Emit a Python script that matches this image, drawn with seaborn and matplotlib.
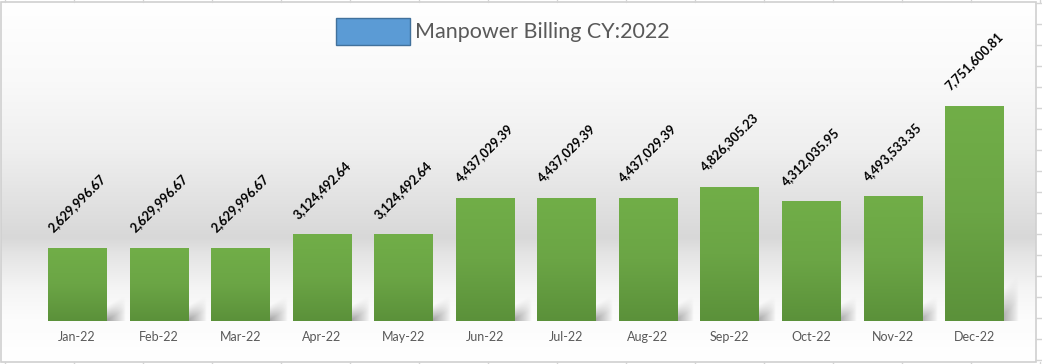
import numpy as np
import matplotlib
matplotlib.use('Agg')
import matplotlib.pyplot as plt
import seaborn as sns
from matplotlib.colors import LinearSegmentedColormap
from matplotlib.patches import Rectangle

months = ['Jan-22', 'Feb-22', 'Mar-22', 'Apr-22', 'May-22', 'Jun-22',
          'Jul-22', 'Aug-22', 'Sep-22', 'Oct-22', 'Nov-22', 'Dec-22']
billing = [2629996.67, 2629996.67, 2629996.67, 3124492.64, 3124492.64, 4437029.39,
           4437029.39, 4437029.39, 4826305.23, 4312035.95, 4493533.35, 7751600.81]
series_name = 'Manpower Billing CY:2022'

sns.set_theme(style='white')
plt.rcParams['font.family'] = ['Lato', 'DejaVu Sans']

W, H = 1042, 364
fig = plt.figure(figsize=(W / 100, H / 100), dpi=100)

# backdrop: spreadsheet cells + chart area with grey band gradient
bg = fig.add_axes([0, 0, 1, 1], zorder=0)
bg.axis('off')
for x in range(5, W, 69):
    bg.plot([x, x], [0, 2], color='#d4d4d4', lw=1)
    bg.plot([x, x], [362, H], color='#d4d4d4', lw=1)
for y in range(3, H, 21):
    bg.plot([1036, W], [y, y], color='#d4d4d4', lw=1)

stops = [(0.0, '#ffffff'), (0.22, '#f9f9f9'), (0.41, '#efefef'), (0.55, '#e2e2e2'),
         (0.655, '#d8d8d8'), (0.70, '#e4e4e4'), (0.80, '#f5f5f5'), (0.88, '#fcfcfc'),
         (1.0, '#ffffff')]
bg_cmap = LinearSegmentedColormap.from_list('bg', stops)
grad = np.linspace(0, 1, 256).reshape(-1, 1)
bg.imshow(grad, cmap=bg_cmap, extent=[1, 1036, 362, 2], aspect='auto', origin='upper')
bg.add_patch(Rectangle((1, 2), 1035, 360, fill=False, edgecolor='#d0d0d0', lw=1.2))

# soft shadows to the right of each bar base
u = np.linspace(0, 1, 40)
vv = np.linspace(0, 1, 40)
U, V = np.meshgrid(u, vv)  # V: 0 top -> 1 bottom
alpha = 0.75 * (1 - U) ** 0.9 * np.clip((V - 0.45 * (1 - U)) / 0.55, 0, 1) ** 1.2
shadow = np.zeros((40, 40, 4))
shadow[..., :3] = 0.5
shadow[..., 3] = alpha
step = 81.2
for i, v in enumerate(billing):
    x_right = 106 + step * i
    top = 294 if v < 7e6 else 272
    bg.imshow(shadow, extent=[x_right, x_right + 20, 321, top], aspect='auto',
              origin='upper', zorder=1)
bg.set_xlim(0, W)
bg.set_ylim(H, 0)

# main bar axes
ax = fig.add_axes([36.4 / W, (H - 321) / H, (1015 - 36.4) / W, (321 - 44) / H], zorder=1)
ax.patch.set_alpha(0)
sns.barplot(x=months, y=billing, color='#6aa843', saturation=1, width=0.714,
            linewidth=0, ax=ax)

bar_cmap = LinearSegmentedColormap.from_list('bar', ['#5b913a', '#6ba545', '#71ae48'])
for p in ax.patches:
    x0, w, h = p.get_x(), p.get_width(), p.get_height()
    g = np.linspace(0, 1, 128).reshape(-1, 1)
    ax.imshow(g, cmap=bar_cmap, extent=[x0, x0 + w, 0, h], aspect='auto',
              origin='lower', zorder=p.get_zorder() + 0.1)

ax.bar_label(ax.containers[0], labels=[f'{v:,.2f}' for v in billing], rotation=45,
             padding=10, fontsize=9.2, fontweight='bold', color='black')

ax.set_xlim(-0.5, 11.5)
ax.set_ylim(0, 10e6)
ax.set_yticks([])
ax.set_xlabel('')
ax.set_ylabel('')
ax.tick_params(axis='x', length=0, labelsize=9, colors='#595959', pad=7)
sns.despine(ax=ax, left=True, bottom=True)

# legend box at the top
bg.add_patch(Rectangle((336, 18), 74, 27, facecolor='#5b9bd5', edgecolor='#41719c',
                       lw=1, zorder=3))
bg.text(415, 31.5, series_name, fontsize=15.5, color='#595959', va='center', ha='left',
        zorder=3)

fig.savefig('out.png', dpi=100)
